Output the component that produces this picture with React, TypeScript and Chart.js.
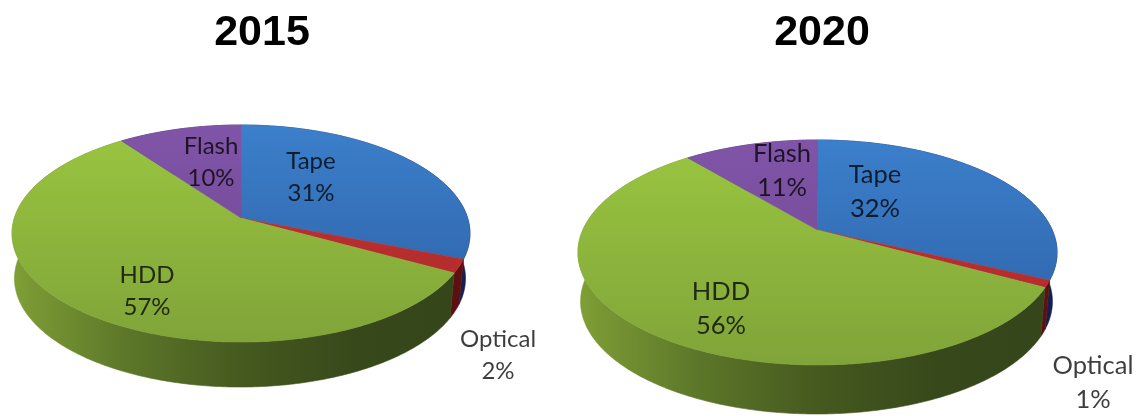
import React, { useEffect, useRef } from "react";
import { Chart, registerables } from "chart.js";

Chart.register(...registerables);

const categories = ["Tape", "Optical", "HDD", "Flash"];
const values2015 = [31, 2, 57, 10];
const values2020 = [32, 1, 56, 11];
const faceColors = [
  ["#3c7fcb", "#2c5fa3"],
  ["#c03232", "#b02a2a"],
  ["#9ac640", "#80a439"],
  ["#8054a8", "#70468c"],
];
const wallColors = [
  ["#1c3c74", "#14204c"],
  ["#7c1414", "#5e0f12"],
  ["#7f9f36", "#5c7729", "#46591f", "#37491a", "#34461a"],
  ["#4c3468", "#3c2854"],
];

const CANVAS_W = 640;
const CANVAS_H = 416;
// The base of the disc sits further from the viewer, so it draws a little narrower.
const BASE_SCALE = 0.985;

type Pie = {
  title: string;
  values: number[];
  left: number;
  cx: number;
  cy: number;
  a: number;
  b: number;
  k: number;
  depth: number;
  fontSize: number;
  lineGap: number;
  anchors: [number, number][];
};

// Geometry is in page pixels; `left` moves it into the canvas.
const pies: Pie[] = [
  {
    title: "2015",
    values: values2015,
    left: -58,
    cx: 241,
    cy: 218,
    a: 226.6,
    b: 106.3,
    k: 0.143,
    depth: 45,
    fontSize: 24,
    lineGap: 32,
    anchors: [[311, 177], [498, 355], [147, 291], [211, 162]],
  },
  {
    title: "2020",
    values: values2020,
    left: 502,
    cx: 817.5,
    cy: 230,
    a: 234.7,
    b: 108,
    k: 0.2,
    depth: 49,
    fontSize: 25.5,
    lineGap: 34,
    anchors: [[875, 192], [1093, 383], [721, 309], [782, 171]],
  },
];

function gradient(ctx: CanvasRenderingContext2D, x0: number, y0: number, x1: number, y1: number, stops: string[]) {
  const g = ctx.createLinearGradient(x0, y0, x1, y1);
  stops.forEach((c, i) => g.addColorStop(stops.length > 1 ? i / (stops.length - 1) : 0, c));
  return g;
}

// Draws the library's arcs as a tilted disc: each angle goes through a perspective
// projection of the unit circle, and a wall is swept below the front of the rim.
const tiltedPie = {
  id: "tiltedPie",
  beforeDatasetsDraw(chart: any, _args: any, opts: any) {
    const pie: Pie = opts.pie;
    const ctx: CanvasRenderingContext2D = chart.ctx;
    const ox = pie.cx - pie.left;
    const project = (angle: number): [number, number] => {
      const u = Math.cos(angle);
      const v = Math.sin(angle);
      const w = 1 - pie.k * v;
      return [ox + (pie.a * u) / w, pie.cy + (pie.b * v) / w];
    };
    const halfW = pie.a / Math.sqrt(1 - pie.k * pie.k);
    const top = pie.cy - pie.b / (1 + pie.k);
    const bottom = pie.cy + pie.b / (1 - pie.k);
    const arcs = chart.getDatasetMeta(0).data;

    const rims = arcs.map((arc: any) => {
      const { startAngle, endAngle } = arc.getProps(["startAngle", "endAngle"], true);
      const n = Math.max(2, Math.ceil((endAngle - startAngle) * 80));
      const pts: [number, number][] = [];
      for (let i = 0; i <= n; i++) pts.push(project(startAngle + ((endAngle - startAngle) * i) / n));
      return pts;
    });

    rims.forEach((pts: [number, number][], i: number) => {
      ctx.beginPath();
      pts.forEach(([x, y], j) => (j ? ctx.lineTo(x, y) : ctx.moveTo(x, y)));
      for (let j = pts.length - 1; j >= 0; j--) {
        ctx.lineTo(ox - 1 + (pts[j][0] - ox) * BASE_SCALE, pts[j][1] + pie.depth);
      }
      ctx.closePath();
      const fill = gradient(ctx, ox - halfW, 0, ox + halfW, 0, wallColors[i]);
      ctx.fillStyle = fill;
      ctx.strokeStyle = fill;
      ctx.lineWidth = 0.6;
      ctx.fill();
      ctx.stroke();
    });

    rims.forEach((pts: [number, number][], i: number) => {
      ctx.beginPath();
      ctx.moveTo(ox, pie.cy);
      pts.forEach(([x, y]) => ctx.lineTo(x, y));
      ctx.closePath();
      const fill = gradient(ctx, 0, top, 0, bottom, faceColors[i]);
      ctx.fillStyle = fill;
      ctx.strokeStyle = fill;
      ctx.lineWidth = 0.6;
      ctx.fill();
      ctx.stroke();
    });

    ctx.save();
    ctx.font = `${pie.fontSize}px Lato`;
    ctx.textAlign = "center";
    ctx.textBaseline = "middle";
    ctx.fillStyle = "rgba(0,0,0,0.76)";
    categories.forEach((name, i) => {
      const [x, y] = pie.anchors[i];
      ctx.fillText(name, x - pie.left, y - pie.lineGap / 2);
      ctx.fillText(`${pie.values[i]}%`, x - pie.left, y + pie.lineGap / 2);
    });
    ctx.restore();
    return false;
  },
};

function PieCanvas({ pie }: { pie: Pie }) {
  const ref = useRef<HTMLCanvasElement>(null);
  useEffect(() => {
    const chart = new Chart(ref.current!, {
      type: "pie",
      data: {
        labels: categories,
        datasets: [{ data: pie.values, backgroundColor: faceColors.map((c) => c[0]) }],
      },
      options: {
        responsive: false,
        animation: false,
        events: [],
        plugins: {
          legend: { display: false },
          tooltip: { enabled: false },
          title: {
            display: true,
            text: pie.title,
            color: "#000000",
            font: { family: "'Liberation Sans'", size: 43, weight: "bold" },
            padding: { top: 7, bottom: 10 },
          },
          tiltedPie: { pie },
        } as any,
      },
      plugins: [tiltedPie as any],
    });
    return () => chart.destroy();
  }, [pie]);
  return (
    <canvas
      ref={ref}
      width={CANVAS_W}
      height={CANVAS_H}
      style={{ position: "absolute", left: pie.left, top: 0, width: CANVAS_W, height: CANVAS_H }}
    />
  );
}

export default function App() {
  return (
    <div style={{ position: "fixed", left: 0, top: 0, width: 1138, height: 416, overflow: "hidden", background: "#fff" }}>
      {pies.map((p) => (
        <PieCanvas key={p.title} pie={p} />
      ))}
    </div>
  );
}
